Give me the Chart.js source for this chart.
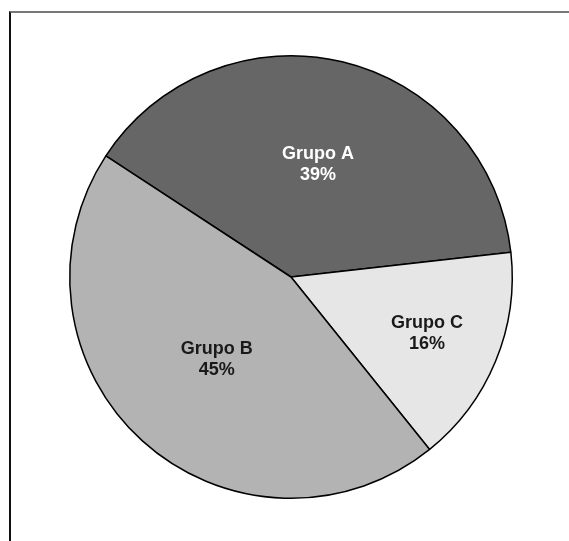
<!DOCTYPE html>
<html>
<head>
<meta charset="utf-8">
<script src="https://cdn.jsdelivr.net/npm/chart.js@4/dist/chart.umd.min.js"></script>
<style>
  html, body { margin: 0; padding: 0; background: #fff; }
  #wrap { position: relative; width: 569px; height: 541px; overflow: hidden; }
  #frame {
    position: absolute; left: 9px; top: 11px; width: 600px; height: 600px;
    border-top: 2px solid #777; border-left: 2px solid #111;
  }
  canvas { position: absolute; left: 0; top: 0; }
</style>
</head>
<body>
<div id="wrap">
  <div id="frame"></div>
  <canvas id="pieChart" width="569" height="541"></canvas>
</div>
<script>
// slices in clockwise order, starting from the upper-left edge
const groups = ['Grupo A', 'Grupo C', 'Grupo B'];
const shares = [39, 16, 45];
const sliceColors = ['#666666', '#e6e6e6', '#b3b3b3'];
const textColors = ['#ffffff', '#1a1a1a', '#1a1a1a'];
// how far out (fraction of radius) each slice's label sits
const labelDist = [0.525, 0.665, 0.5];

const sliceLabels = {
    id: 'sliceLabels',
    afterDatasetsDraw(chart) {
        const ctx = chart.ctx;
        const meta = chart.getDatasetMeta(0);
        const total = shares.reduce((a, b) => a + b, 0);
        ctx.save();
        ctx.font = 'bold 18px "Liberation Sans", Arial, sans-serif';
        ctx.textAlign = 'center';
        ctx.textBaseline = 'middle';
        meta.data.forEach((arc, i) => {
            const p = arc.getProps(['x', 'y', 'startAngle', 'endAngle', 'outerRadius'], true);
            const mid = (p.startAngle + p.endAngle) / 2;
            const r = p.outerRadius * labelDist[i];
            const cx = p.x + Math.cos(mid) * r;
            const cy = p.y + Math.sin(mid) * r;
            ctx.fillStyle = textColors[i];
            ctx.fillText(groups[i], cx, cy - 10);
            ctx.fillText(Math.round(shares[i] / total * 100) + '%', cx, cy + 11);
        });
        ctx.restore();
    }
};

new Chart(document.getElementById('pieChart'), {
    type: 'pie',
    data: {
        labels: groups,
        datasets: [{
            data: shares,
            backgroundColor: sliceColors,
            borderColor: '#000000',
            borderWidth: 1.5
        }]
    },
    options: {
        responsive: false,
        animation: false,
        rotation: 303.2,
        layout: { padding: { left: 69, right: 56, top: 55, bottom: 42 } },
        plugins: {
            legend: { display: false },
            tooltip: { enabled: false }
        }
    },
    plugins: [sliceLabels]
});
</script>
</body>
</html>
